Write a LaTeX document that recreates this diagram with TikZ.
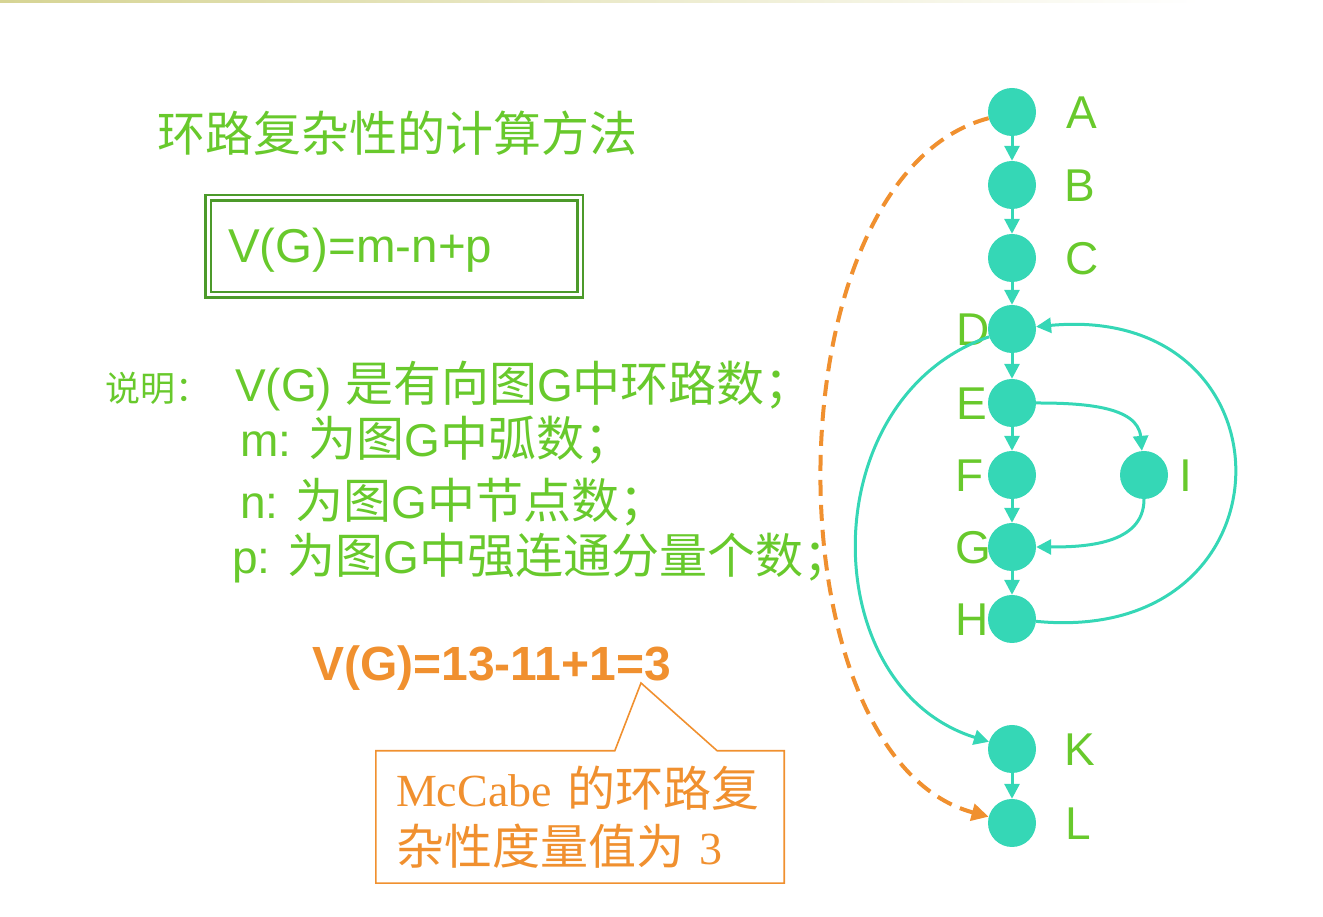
\documentclass[tikz,border=0pt]{standalone}
\usepackage{fontspec}
\setmainfont{Liberation Sans}
\newfontfamily\cjk{Noto Sans CJK SC}
\newfontfamily\mcserif{Liberation Serif}
\usetikzlibrary{arrows.meta,positioning,calc}

\definecolor{txtgreen}{HTML}{68C92C}
\definecolor{boxgreen}{HTML}{4C9A2A}
\definecolor{nodeteal}{HTML}{35D7B6}
\definecolor{accorange}{HTML}{F0902F}
\definecolor{topline}{HTML}{D6D494}

\newcommand{\zh}[1]{{\cjk\fontsize{48}{50}\selectfont #1}}

\begin{document}
\begin{tikzpicture}[
    x=1pt, y=1pt,
    vtx/.style={circle, fill=nodeteal, minimum size=48pt, inner sep=0pt},
    lbl/.style={text=txtgreen, font=\fontsize{46}{46}\selectfont,
      inner sep=0pt, text height=33pt, text depth=0pt},
    arr/.style={-{Triangle[length=15pt,width=15pt]}, line width=3pt,
      draw=nodeteal},
    dasharr/.style={-{Triangle[length=17pt,width=17pt]}, line width=4pt,
      draw=accorange, dash pattern=on 16pt off 9pt},
    txt/.style={text=txtgreen, anchor=west, inner sep=0pt,
      font=\fontsize{46}{50}\selectfont},
  ]
    \useasboundingbox (0,0) rectangle (1323,917);
    \shade[left color=topline, right color=white] (0,914.5) rectangle (1200,917);

    % --- left column: title, formula, notes ---
    \node[txt, font=\fontsize{48}{50}\selectfont] (title) at (157,784)
      {\cjk 环路复杂性的计算方法};
    \node[draw=boxgreen, line width=2.5pt, double, double distance=3pt,
      minimum width=372pt, minimum height=97pt, inner sep=0pt]
      (formula) at (394,670.5) {};
    \node[txt, font=\fontsize{47.5}{50}\selectfont] (formula-txt) at (228,667)
      {V(G)=m-n+p};

    \node[txt, font=\fontsize{35}{40}\selectfont] (note-lbl) at (105,529)
      {\cjk 说明：};
    \node[txt] (note-v) at (235,531) {V(G) \zh{是有向图}G\zh{中环路数；}};
    \node[txt] (note-m) at (240,477) {m: \zh{为图}G\zh{中弧数；}};
    \node[txt] (note-n) at (240,415) {n: \zh{为图}G\zh{中节点数；}};
    \node[txt] (note-p) at (232,359) {p: \zh{为图}G\zh{中强连通分量个数；}};

    % result
    \node[txt, text=accorange, font=\bfseries\fontsize{48}{50}\selectfont]
      (result) at (312,249) {V(G)=13-11+1=3};

    % callout
    \node[text=accorange, align=left, text width=368pt, inner sep=0pt,
      minimum width=408pt, minimum height=132pt,
      font=\fontsize{46}{58}\selectfont] (callout) at (580,100)
      {{\mcserif McCabe }\zh{的环路复}\\\zh{杂性度量值为 }{\mcserif 3}};
    \coordinate (tip) at (641,234);
    \draw[accorange, line width=1.6pt] (callout.north west)
      -- ([xshift=239pt]callout.north west) -- (tip)
      -- ([xshift=-67pt]callout.north east) -- (callout.north east)
      -- (callout.south east) -- (callout.south west) -- cycle;

    % --- flow graph ---
    \node[vtx] (A) at (1012,805) {};
    \node[vtx] (B) at (1012,732) {};
    \node[vtx] (C) at (1012,659) {};
    \node[vtx] (D) at (1012,588) {};
    \node[vtx] (E) at (1012,514) {};
    \node[vtx] (F) at (1012,442) {};
    \node[vtx] (G) at (1012,370) {};
    \node[vtx] (H) at (1012,298) {};
    \node[vtx] (I) at (1144,442) {};
    \node[vtx] (K) at (1012,168) {};
    \node[vtx] (L) at (1012,94) {};

    \node[lbl] (A-lbl) at ([xshift=70pt]A) {A};
    \node[lbl] (B-lbl) at ([xshift=68pt]B) {B};
    \node[lbl] (C-lbl) at ([xshift=70pt]C) {C};
    \node[lbl] (D-lbl) at ([xshift=-39pt]D) {D};
    \node[lbl] (E-lbl) at ([xshift=-40pt]E) {E};
    \node[lbl] (F-lbl) at ([xshift=-42pt]F) {F};
    \node[lbl] (G-lbl) at ([xshift=-39pt]G) {G};
    \node[lbl] (H-lbl) at ([xshift=-40pt]H) {H};
    \node[lbl] (I-lbl) at ([xshift=42pt]I) {I};
    \node[lbl] (K-lbl) at ([xshift=68pt]K) {K};
    \node[lbl] (L-lbl) at ([xshift=66pt]L) {L};

    \draw[arr] (A) -- (B);
    \draw[arr] (B) -- (C);
    \draw[arr] (C) -- (D);
    \draw[arr] (D) -- (E);
    \draw[arr] (E) -- (F);
    \draw[arr] (F) -- (G);
    \draw[arr] (G) -- (H);
    \draw[arr] (K) -- (L);
    \draw[arr] (E) to[out=0, in=95] (I);
    \draw[arr] (I) to[out=-90, in=0] (G);
    \draw[arr] (H) .. controls (1300,270) and (1300,615) .. (D);
    \draw[arr] (D) .. controls (813,520) and (813,230) .. (K);

    % extra edge closing the graph
    \draw[dasharr] (A) .. controls (767,740) and (767,160) .. (L);
\end{tikzpicture}
\end{document}
